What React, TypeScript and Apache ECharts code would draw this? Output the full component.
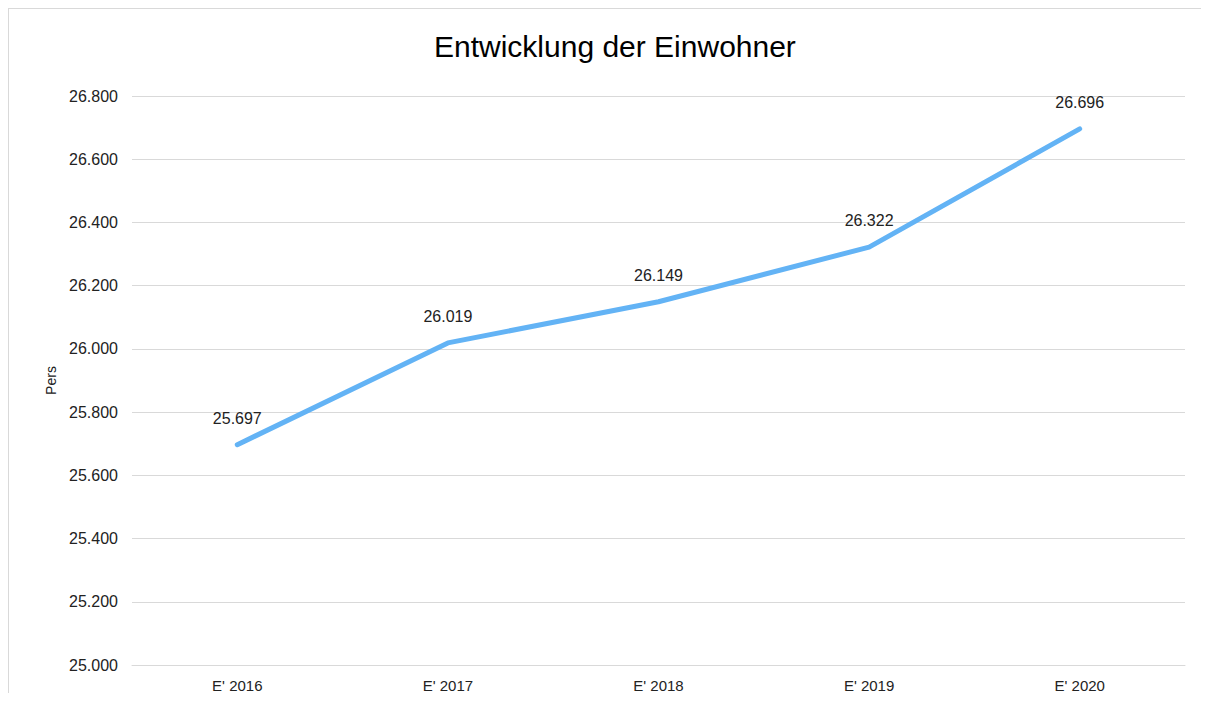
import React, { useEffect, useRef } from "react";
import * as echarts from "echarts";

const categories = ["E' 2016", "E' 2017", "E' 2018", "E' 2019", "E' 2020"];
const einwohner = [25697, 26019, 26149, 26322, 26696];
const yMin = 25000;
const yMax = 26800;
const yStep = 200;

function fmt(v: number): string {
  const s = Math.round(v).toString();
  return s.replace(/\B(?=(\d{3})+(?!\d))/g, ".");
}

export default function App() {
  const ref = useRef<HTMLDivElement>(null);
  useEffect(() => {
    if (!ref.current) return;
    const chart = echarts.init(ref.current, undefined, { renderer: "svg" });
    const font = "'Liberation Sans', Arial, sans-serif";
    chart.setOption({
      animation: false,
      textStyle: { fontFamily: font },
      title: {
        text: "Entwicklung der Einwohner",
        left: 420,
        top: 17,
        textStyle: { fontFamily: font, fontSize: 30, fontWeight: "normal", color: "#000" },
      },
      grid: { left: 123, right: 16, top: 87, bottom: 27 },
      xAxis: {
        type: "category",
        data: categories,
        boundaryGap: true,
        axisLine: { lineStyle: { color: "#d9d9d9", width: 1 } },
        axisTick: { show: false },
        axisLabel: { color: "#222", fontSize: 15, margin: 13, fontFamily: font },
      },
      yAxis: {
        type: "value",
        min: yMin,
        max: yMax,
        interval: yStep,
        name: "Pers",
        nameLocation: "middle",
        nameGap: 74,
        nameTextStyle: { color: "#222", fontSize: 14, fontFamily: font },
        axisLine: { show: false },
        axisTick: { show: false },
        splitLine: { lineStyle: { color: "#d9d9d9", width: 1 } },
        axisLabel: { color: "#222", fontSize: 16, margin: 14, fontFamily: font, formatter: (v: number) => fmt(v) },
      },
      series: [
        {
          type: "line",
          data: einwohner,
          showSymbol: true,
          symbol: "circle",
          symbolSize: 1,
          lineStyle: { color: "#63b3f5", width: 5, cap: "round", join: "round" },
          itemStyle: { color: "#63b3f5" },
          label: {
            show: true,
            position: "top",
            distance: 18,
            color: "#222",
            fontSize: 16,
            fontFamily: font,
            formatter: (p: any) => fmt(p.value),
          },
        },
      ],
    });
    return () => chart.dispose();
  }, []);
  return (
    <div
      style={{
        width: 1193,
        height: 685,
        boxSizing: "border-box",
        borderLeft: "1px solid #d9d9d9",
        borderTop: "1px solid #d9d9d9",
      }}
    >
      <div ref={ref} style={{ width: 1192, height: 684 }} />
    </div>
  );
}
